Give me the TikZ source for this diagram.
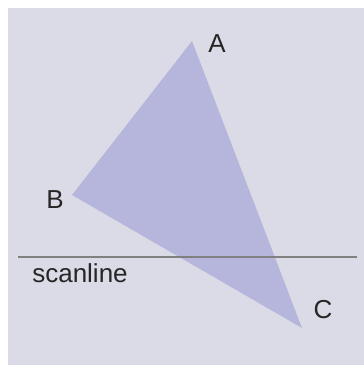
\documentclass[tikz,border=0pt]{standalone}
\usepackage{fontspec}
\setmainfont{Liberation Sans}
\definecolor{bgcol}{RGB}{219,219,231}
\definecolor{tricol}{RGB}{182,182,220}
\definecolor{linecol}{RGB}{128,128,128}
\begin{document}
\begin{tikzpicture}[x=1pt,y=-1pt,
  lbl/.style={anchor=base,inner sep=0pt,font=\fontsize{26}{30}\selectfont,text=black!85}]
\useasboundingbox (0,0) rectangle (364,365);
\fill[bgcol] (8,8) rectangle (364,365);
\coordinate (A) at (192,41);
\coordinate (B) at (72,195);
\coordinate (C) at (302,328);
\fill[tricol] (A) -- (B) -- (C) -- cycle;
\coordinate (S1) at (18,257);
\coordinate (S2) at (357,257);
\draw[linecol,line width=1.6pt] (S1) -- (S2);
\node[lbl] (la) at (217,52) {A};
\node[lbl] (lb) at (55,208) {B};
\node[lbl] (lc) at (323,318) {C};
\node[lbl] (ls) at (80,282) {scanline};
\end{tikzpicture}
\end{document}
